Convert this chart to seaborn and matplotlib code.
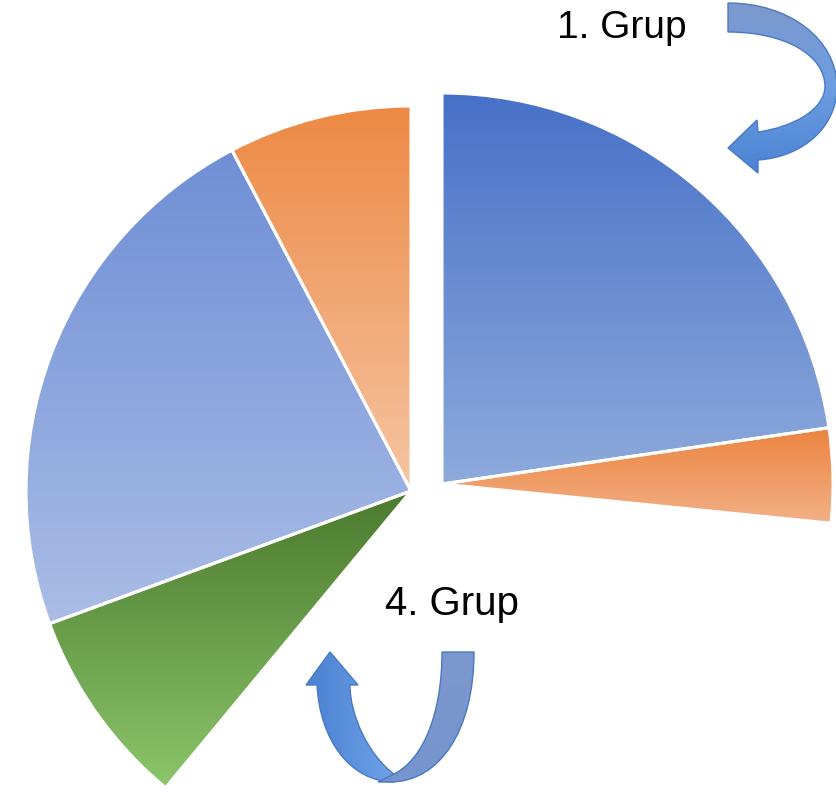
import numpy as np
import matplotlib
matplotlib.use("Agg")
import matplotlib.pyplot as plt
from matplotlib.path import Path
from matplotlib.patches import PathPatch
import seaborn as sns

# ---- data -------------------------------------------------------------
slice_values = [22.7, 3.9, 34.4, 8.4, 22.9, 7.7]      # share of the whole, %
slice_group = [1, 1, 0, 4, 4, 4]                     # 0 = slice left empty
slice_top_colors = ["#4771c8", "#ec8440", "#ffffff", "#4b7a2d", "#6f8ed5", "#ed8944"]
slice_bottom_colors = ["#8eaadc", "#f3b086", "#ffffff", "#8cc56b", "#aabde7", "#f6c5a3"]
group_labels = ["1. Grup", "4. Grup"]

# ---- canvas -----------------------------------------------------------
W, H = 837, 795
sns.set_theme(style="white")
plt.rcParams["font.family"] = ["Liberation Sans", "DejaVu Sans"]

fig = plt.figure(figsize=(W / 100, H / 100), dpi=100)
ax = fig.add_axes([0, 0, 1, 1])


def P(x, y):
    """screen-style (y down) to axes coordinates (y up)"""
    return (x, H - y)


def gradient_fill(patch, colors, extent, horizontal=False, zorder=1):
    cmap = sns.blend_palette(colors, n_colors=256, as_cmap=True)
    ramp = np.linspace(0, 1, 256)
    if horizontal:
        img = ramp.reshape(1, -1)
    else:
        img = ramp[::-1].reshape(-1, 1)
    im = ax.imshow(img, cmap=cmap, extent=extent, origin="lower",
                   aspect="auto", interpolation="bicubic", zorder=zorder)
    im.set_clip_path(patch)
    return im


def wedge_extent(w):
    t = np.radians(np.linspace(w.theta1, w.theta2, 200))
    cx, cy = w.center
    xs = np.concatenate([[cx], cx + w.r * np.cos(t)])
    ys = np.concatenate([[cy], cy + w.r * np.sin(t)])
    return (xs.min(), xs.max(), ys.min(), ys.max())


# ---- the two pie groups ------------------------------------------------
group_geometry = {1: (P(442, 484), 391), 4: (P(411, 491), 385)}

for grp, (center, radius) in group_geometry.items():
    wedges, _ = ax.pie(slice_values, startangle=90, counterclock=False,
                       center=center, radius=radius, frame=True,
                       colors=slice_top_colors,
                       wedgeprops=dict(edgecolor="white", linewidth=2.2))
    for i, w in enumerate(wedges):
        if slice_group[i] != grp:
            w.set_visible(False)
            continue
        w.set_facecolor("none")
        w.set_zorder(3)
        gradient_fill(w, [slice_top_colors[i], slice_bottom_colors[i]],
                      wedge_extent(w), zorder=2)

# ---- curved arrow beside group 1 --------------------------------------
M, L, C, Z = Path.MOVETO, Path.LINETO, Path.CURVE4, Path.CLOSEPOLY
top_pts = [(728, 3), (790, 3), (837, 40), (837, 87),
           (837, 127), (803, 157), (758, 160),
           (758, 173), (728, 148), (757, 120), (758, 132),
           (793, 127), (824, 110), (825, 87),
           (825, 55), (785, 32), (728, 32), (728, 32)]
top_codes = [M, C, C, C, C, C, C, L, L, L, L, C, C, C, C, C, C, Z]
top_arrow = PathPatch(Path([P(*p) for p in top_pts], top_codes),
                      facecolor="none", edgecolor="#4a7ac4", lw=1.0, zorder=5)
ax.add_patch(top_arrow)
gradient_fill(top_arrow, ["#7e98cc", "#6c9de2", "#4a82d2"],
              (728, 838, H - 174, H - 2), zorder=4)

# ---- U-turn arrow beside group 4 ---------------------------------------
left_pts = [(350, 685), (358, 685), (330, 652), (306, 685), (317, 685),
            (320, 740), (350, 782), (395, 782),
            (395, 775),
            (368, 755), (350, 715), (350, 685), (350, 685)]
left_codes = [M, L, L, L, L, C, C, C, L, C, C, C, Z]
left_arm = PathPatch(Path([P(*p) for p in left_pts], left_codes),
                     facecolor="none", edgecolor="#4a7ac4", lw=1.0, zorder=5)
ax.add_patch(left_arm)
gradient_fill(left_arm, ["#4a80d0", "#6fa2e8"], (305, 396, H - 783, H - 651),
              horizontal=True, zorder=4)

right_pts = [(442, 652), (474, 652),
             (474, 730), (440, 782), (390, 782),
             (378, 782), (392, 775),
             (425, 760), (442, 710), (442, 652), (442, 652)]
right_codes = [M, L, C, C, C, L, L, C, C, C, Z]
right_arm = PathPatch(Path([P(*p) for p in right_pts], right_codes),
                      facecolor="none", edgecolor="#4a7ac4", lw=1.0, zorder=7)
ax.add_patch(right_arm)
gradient_fill(right_arm, ["#7d98cd", "#7694cd"], (377, 475, H - 783, H - 651),
              zorder=6)

# ---- group labels ------------------------------------------------------
ax.text(*P(557, 38), group_labels[0], fontsize=28, color="black",
        ha="left", va="baseline", zorder=8)
ax.text(*P(385, 615), group_labels[1], fontsize=29, color="black",
        ha="left", va="baseline", zorder=8)

ax.set_xlim(0, W)
ax.set_ylim(0, H)
ax.set_aspect("auto")
ax.set_axis_off()

fig.savefig("out.png", dpi=100, facecolor="white")
